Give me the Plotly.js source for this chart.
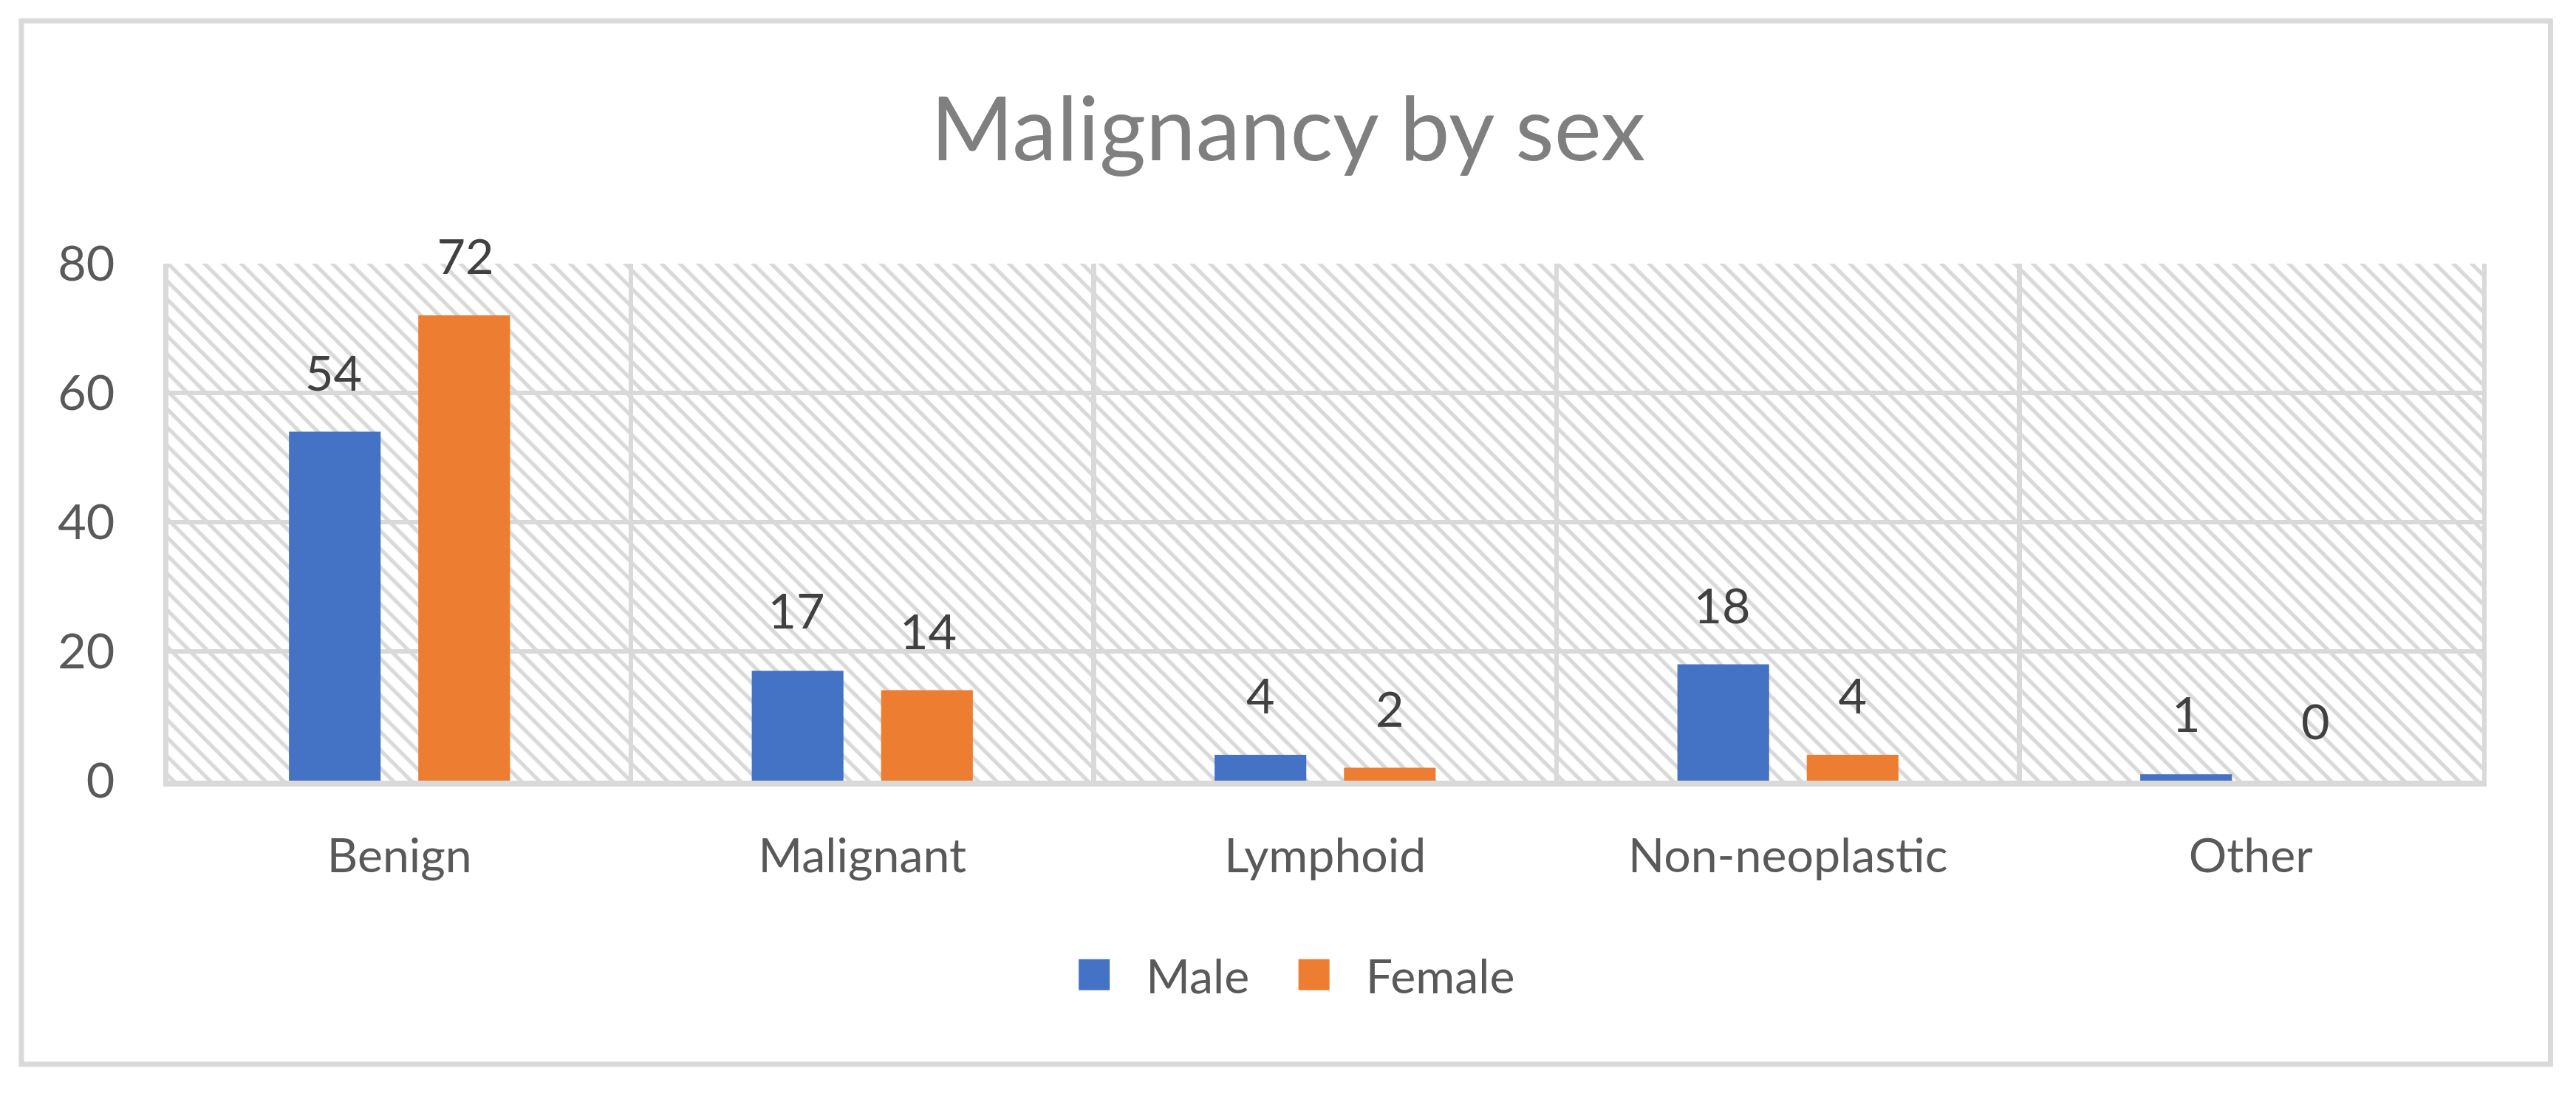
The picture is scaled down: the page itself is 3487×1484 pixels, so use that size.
<!DOCTYPE html>
<html><head><meta charset="utf-8">
<script src="https://cdn.plot.ly/plotly-3.0.1.min.js"></script>
<style>
html,body{margin:0;padding:0;background:#fff;overflow:hidden;}
#wrap{width:3487px;height:1484px;position:relative;overflow:hidden;background:#fff}
#chart{position:absolute;left:0;top:0;width:996.2857px;height:424px;transform:scale(3.5);transform-origin:0 0;}
</style></head><body><div id="wrap"><div id="chart"></div></div>
<script>
const categories = ['Benign', 'Malignant', 'Lymphoid', 'Non-neoplastic', 'Other'];
const seriesNames = ['Male', 'Female'];
const maleValues = [54, 17, 4, 18, 1];
const femaleValues = [72, 14, 2, 4, 0];
const yTicks = [0, 20, 40, 60, 80];
const chartTitle = 'Malignancy by sex';

const seriesValues = [maleValues, femaleValues];
const seriesColors = ['#4472C4', '#ED7D31'];
const grid = '#d9d9d9';
const FONT = 'Lato, "Open Sans", sans-serif';
const bargap = 0.441, bargroupgap = 0.291;
const yMax = yTicks[yTicks.length - 1];

const traces = [];
// hatched plot-area background, spanning the full value range
traces.push({
  type: 'bar', x: [0], y: [yMax], width: [1], xaxis: 'x', yaxis: 'y',
  marker: {color: grid, line: {width: 0},
    pattern: {shape: '\\', size: 5, solidity: 0.3, fgcolor: grid, bgcolor: 'rgba(0,0,0,0)'}},
  showlegend: false, hoverinfo: 'skip'
});
seriesNames.forEach((name, s) => {
  traces.push({
    type: 'bar', name: name, x: categories, y: seriesValues[s],
    xaxis: 'x2', yaxis: 'y',
    marker: {color: seriesColors[s], line: {width: 0}},
    hoverinfo: 'skip'
  });
});

const slot = (1 - bargap) / 2;
const annotations = [];
seriesNames.forEach((name, s) => {
  const off = (s - 0.5) * slot;
  seriesValues[s].forEach((v, i) => {
    annotations.push({
      x: i + off, y: v, xref: 'x2', yref: 'y', text: String(v),
      showarrow: false, yanchor: 'bottom', xanchor: 'center', yshift: 10.5,
      font: {family: FONT, size: 19, color: '#404040'}
    });
  });
});

const layout = {
  width: 996.2857, height: 424,
  margin: {l: 65.43, r: 36.14, t: 102, b: 121.57, pad: 0, autoexpand: false},
  paper_bgcolor: '#fff', plot_bgcolor: '#fff',
  font: {family: FONT, color: '#595959'},
  title: {text: chartTitle, xref: 'container', x: 0.5, xanchor: 'center',
    yref: 'container', y: 0.882, yanchor: 'middle',
    font: {family: FONT, size: 34.6, color: '#7f7f7f'}},
  barmode: 'group', bargap: bargap, bargroupgap: bargroupgap,
  xaxis: {range: [-0.5, 0.5], visible: false, fixedrange: true},
  xaxis2: {overlaying: 'x', anchor: 'y', side: 'bottom', type: 'category',
    tickson: 'boundaries', showgrid: true, gridcolor: grid, gridwidth: 1.9,
    showline: true, linecolor: grid, linewidth: 2.3, ticks: '',
    ticklabelstandoff: 11, automargin: false,
    tickfont: {family: FONT, size: 18.4, color: '#595959'}},
  yaxis: {range: [0, yMax], tickvals: yTicks, ticktext: yTicks.map(String),
    showgrid: true, gridcolor: grid, gridwidth: 1.8, zeroline: false,
    showline: true, mirror: true, linecolor: grid, linewidth: 1.8, ticks: '',
    ticklabelstandoff: 15, automargin: false,
    tickfont: {family: FONT, size: 19, color: '#595959'}},
  legend: {orientation: 'h', x: 0.4829, xanchor: 'center', y: -0.3755, yanchor: 'middle',
    font: {family: FONT, size: 18.4, color: '#595959'}, bgcolor: 'rgba(0,0,0,0)',
    traceorder: 'normal'},
  annotations: annotations,
  shapes: [{type: 'rect', xref: 'paper', yref: 'paper',
    x0: -0.0634, x1: 1.0295, y0: -0.5487, y1: 1.4697,
    line: {color: grid, width: 2}, fillcolor: 'rgba(0,0,0,0)'}]
};

Plotly.newPlot('chart', traces, layout, {staticPlot: true, displayModeBar: false, responsive: false});
</script></body></html>
